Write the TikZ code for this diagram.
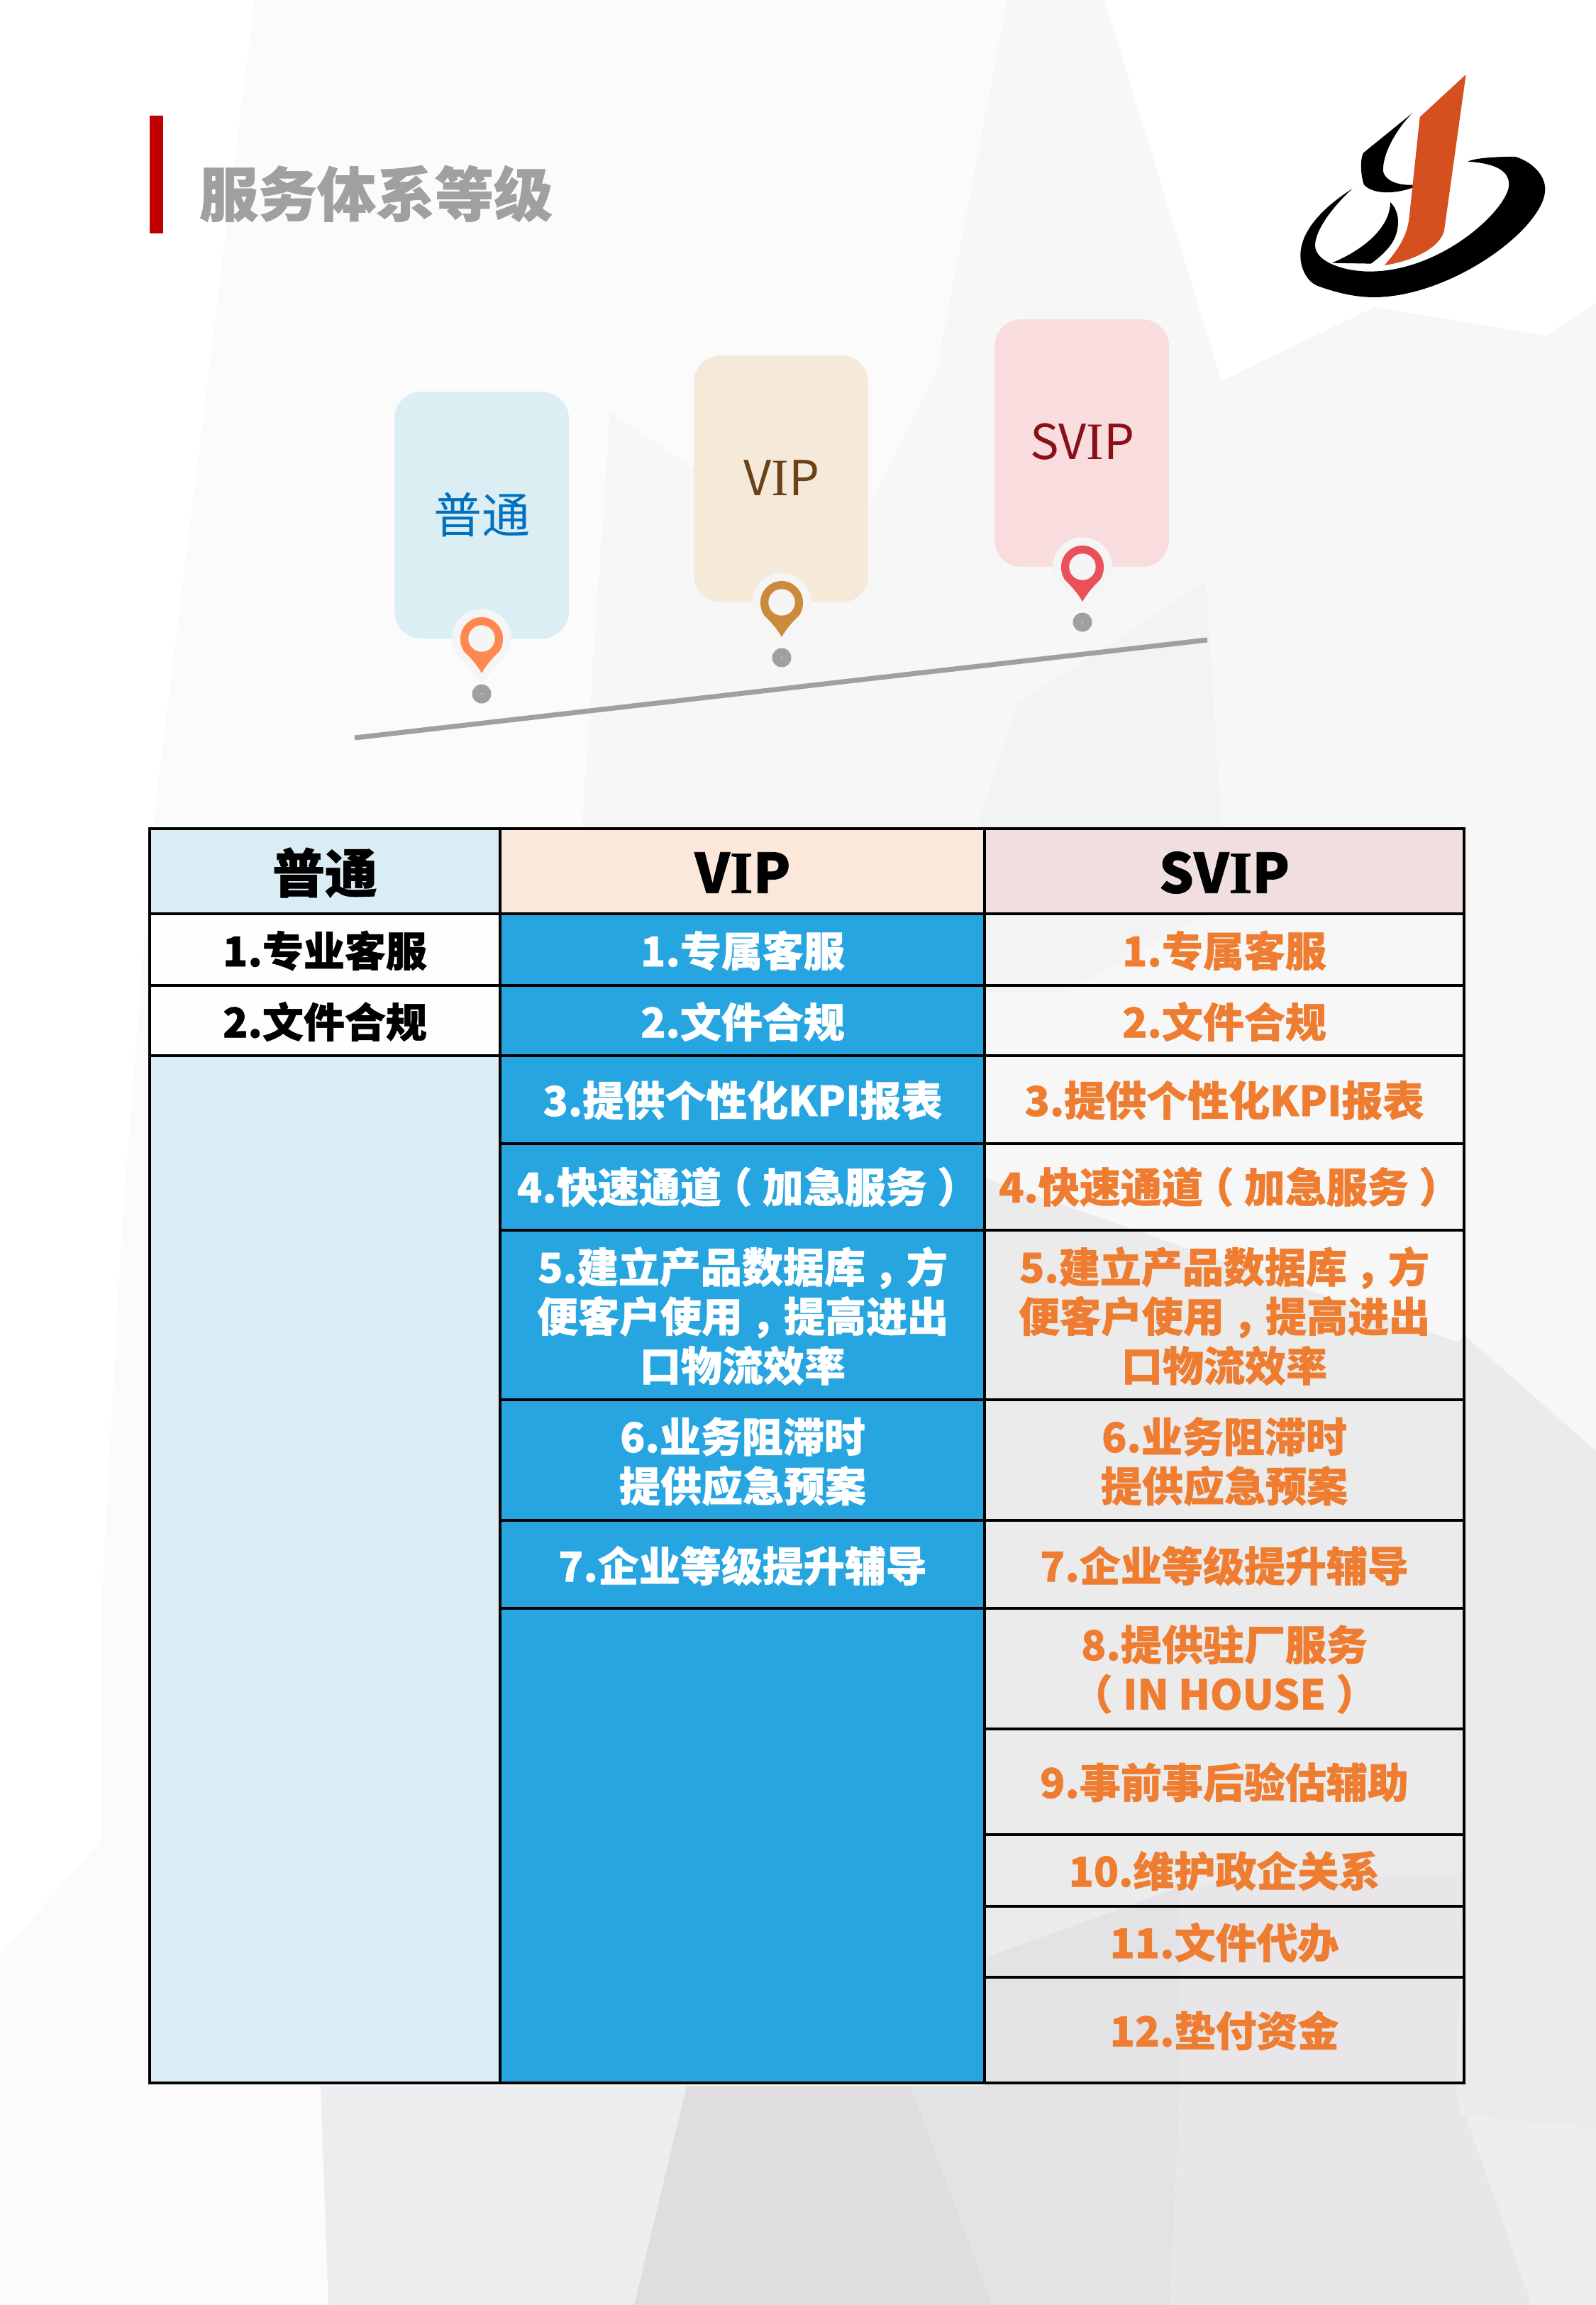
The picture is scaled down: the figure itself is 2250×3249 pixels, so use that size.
\documentclass[tikz,border=0pt]{standalone}
\usepackage{fontspec}
\setmainfont{Noto Sans CJK SC}[BoldFeatures={FakeBold=0.9}]
\newfontfamily\slabfam{Liberation Serif}[BoldFeatures={FakeBold=0.9}]
\newcommand\fwc{\makebox[1em][l]{\kern.2em ，}}
\newcommand\fwl{\makebox[1em][l]{\kern-.25em （}}
\newcommand\fwr{\makebox[1em][l]{\kern.25em ）}}
\newcommand\slabI{{\slabfam\fontsize{74}{74}\selectfont I}}
\newcommand\slabIB{{\slabfam\bfseries\fontsize{84}{84}\selectfont I}}
\definecolor{hblue}{HTML}{DAEDF4}
\definecolor{horange}{HTML}{FCE8DA}
\definecolor{hpink}{HTML}{F1DEDE}
\definecolor{vipblue}{HTML}{27A5E0}
\definecolor{txtor}{HTML}{EE7D31}
\definecolor{haloc}{HTML}{F5F5F5}
\definecolor{pinor}{HTML}{FF8850}
\definecolor{pinbr}{HTML}{CC8B3C}
\definecolor{pinre}{HTML}{E9505A}
\definecolor{logoor}{HTML}{D4501E}
\definecolor{barred}{HTML}{C00000}
\definecolor{cardb}{HTML}{DBEEF4}
\definecolor{cardo}{HTML}{F5E9DA}
\definecolor{cardp}{HTML}{F9DCDD}
\definecolor{tblue}{HTML}{0070C0}
\definecolor{tbrown}{HTML}{6B4218}
\definecolor{tred}{HTML}{8A1018}
\definecolor{grayl}{HTML}{A0A0A0}
\definecolor{bgA}{HTML}{FBFBFB}
\definecolor{bgB}{HTML}{F7F7F7}
\definecolor{bgC}{HTML}{F3F3F3}
\definecolor{bgD}{HTML}{EDECEE}
\definecolor{bgE}{HTML}{DFDDE0}
\definecolor{bgF}{HTML}{E3E3E5}
\definecolor{bgG}{HTML}{E8E6E9}
\definecolor{bgH}{HTML}{EEEEEE}
\definecolor{bgI}{HTML}{EBEBEB}
\definecolor{bgW}{HTML}{FCFAFB}
\tikzset{
  x=1pt,y=-1pt,
  cellline/.style={draw=black,line width=4pt},
  hcell/.style={font=\fontsize{74}{80}\selectfont\bfseries,text=black},
  hlatin/.style={font=\fontsize{77}{80}\selectfont\bfseries,text=black},
  bcell/.style={font=\fontsize{58}{69.5}\selectfont\bfseries,align=center,text=black},
  wcell/.style={bcell,text=white},
  ocell/.style={bcell,text=txtor},
  card/.style={rounded corners=38pt},
  cardtext/.style={font=\fontsize{68}{70}\selectfont}
}
\newcommand\pin[3]{%
  \fill[haloc] (#1-37,#2+20) arc[start angle=152,end angle=388,radius=42] -- (#1,#2+63) -- cycle;
  \fill[#3] (#1-25,#2+18) .. controls (#1-29,#2+12) and (#1-30,#2+6) .. (#1-30,#2)
     arc[start angle=180,end angle=360,radius=30]
     .. controls (#1+30,#2+6) and (#1+29,#2+12) .. (#1+25,#2+18)
     .. controls (#1+14,#2+29) and (#1+6,#2+38) .. (#1,#2+49)
     .. controls (#1-6,#2+38) and (#1-14,#2+29) .. (#1-25,#2+18) -- cycle;
  \fill[haloc] (#1,#2) circle[radius=18.7];
  \fill[grayl] (#1,#2+78) circle[radius=13.5];
  \fill[white] (#1,#2+78) circle[radius=.8];
}
\begin{document}
\begin{tikzpicture}
\useasboundingbox (0,0) rectangle (2250,3249);
% background
\fill[white] (0,0) rectangle (2250,3249);
\fill[bgA] (359,0) -- (1557,0) -- (1722,537) -- (2250,537) -- (2250,3249) -- (0,3249) -- (0,2757) -- (143,2593) -- (143,2264) -- (173,1716) -- (200,1374) -- (215,1170) -- cycle;
\fill[bgW] (0,2757) -- (143,2593) -- (215,2700) -- (452,2940) -- (463,3249) -- (0,3249) -- cycle;
\fill[bgB] (1420,0) -- (1557,0) -- (1722,537) -- (1937,433) -- (2180,473) -- (2250,427) -- (2250,2100) -- (1388,2100) -- (1388,1170) -- (820,1170) -- (860,580) -- (1180,800) -- (1320,522) -- cycle;
\fill[bgC] (1434,992) -- (1700,820) -- (1722,1170) -- (1377,1170) -- cycle;
\fill[bgC] (1388,1288) -- (1700,1288) -- (1500,1400) -- (1388,1400) -- cycle;
\fill[bgI] (1388,1660) -- (2056,1892) -- (2064,1882) -- (2250,2045) -- (2250,3000) -- (2060,2982) -- (2052,2940) -- (1388,2940) -- cycle;
\fill[bgD] (452,2940) -- (968,2940) -- (894,3249) -- (463,3249) -- cycle;
\fill[bgE] (968,2940) -- (1284,2940) -- (1399,3249) -- (894,3249) -- cycle;
\fill[bgF] (1284,2940) -- (1664,2940) -- (1650,3249) -- (1399,3249) -- cycle;
\fill[bgF] (1388,2760) -- (1664,2660) -- (1664,2940) -- (1388,2940) -- cycle;
\fill[bgG] (1664,2660) -- (2064,2640) -- (2052,2940) -- (1664,2940) -- cycle;
\fill[bgG] (1664,2940) -- (2052,2940) -- (2160,3249) -- (1650,3249) -- cycle;
\fill[bgH] (2052,2940) -- (2060,2982) -- (2250,3000) -- (2250,3249) -- (2160,3249) -- cycle;
% logo
\begin{scope}[shift={(1750,60)},x=.3333pt,y=-.3333pt]
\fill[black] (470,618) .. controls (340,700) and (250,800) .. (250,900) .. controls (250,960) and (280,1010) .. (320,1028) .. controls (420,1065) and (500,1078) .. (570,1077) .. controls (900,1070) and (1285,780) .. (1285,620) .. controls (1285,560) and (1230,505) .. (1160,483) .. controls (1090,482) and (990,487) .. (958,503) .. controls (1060,510) and (1132,535) .. (1132,600) .. controls (1132,700) and (850,970) .. (540,968) .. controls (440,968) and (315,930) .. (312,860) .. controls (310,790) and (400,680) .. (470,618) -- cycle;
\fill[black] (725,297) -- (518,465) .. controls (505,480) and (500,540) .. (518,600) .. controls (560,650) and (680,640) .. (760,598) .. controls (680,612) and (610,590) .. (600,545) .. controls (595,470) and (660,360) .. (725,297) -- cycle;
\fill[black] (630,675) .. controls (665,710) and (670,760) .. (655,810) .. controls (640,860) and (590,905) .. (548,935) -- (382,932) .. controls (500,885) and (630,790) .. (630,675) -- cycle;
\fill[logoor] (950,135) -- (755,315) -- (710,740) .. controls (700,830) and (650,890) .. (605,942) .. controls (720,925) and (840,870) .. (858,795) -- cycle;
\end{scope}
% title
\fill[barred] (211,163) rectangle (230,329);
\node[text=grayl,font=\fontsize{83}{90}\selectfont\bfseries] (title) at (530,273) {服务体系等级};
% cards
\fill[card,cardb] (556,552) rectangle (802,900);
\fill[card,cardo] (978,501) rectangle (1224,849);
\fill[card,cardp] (1402,450) rectangle (1648,799);
\node[cardtext,text=tblue] (c1) at (679,726) {普通};
\node[cardtext,text=tbrown] (c2) at (1102,674) {V\slabI P};
\node[cardtext,text=tred] (c3) at (1526,623) {SV\slabI P};
\pin{679}{900}{pinor}
\pin{1102}{849}{pinbr}
\pin{1526}{799}{pinre}
\coordinate (ls) at (500,1040);
\coordinate (le) at (1702,902);
\draw[grayl,line width=7pt] (ls) -- (le);
% table fills
\fill[hblue] (211,1168) rectangle (705,1288);
\fill[horange] (705,1168) rectangle (1388,1288);
\fill[hpink] (1388,1168) rectangle (2064,1288);
\fill[white,opacity=.8] (211,1288) rectangle (705,1488);
\fill[hblue] (211,1488) rectangle (705,2936);
\fill[vipblue] (705,1288) rectangle (1388,2936);
% grid
\draw[cellline] (211,1168) rectangle (2064,2936);
\draw[cellline] (705,1168) -- (705,2936);
\draw[cellline] (1388,1168) -- (1388,2936);
\draw[cellline] (211,1288) -- (2064,1288);
\draw[cellline] (211,1389) -- (2064,1389);
\draw[cellline] (211,1488) -- (2064,1488);
\draw[cellline] (705,1612) -- (2064,1612);
\draw[cellline] (705,1734) -- (2064,1734);
\draw[cellline] (705,1973) -- (2064,1973);
\draw[cellline] (705,2143) -- (2064,2143);
\draw[cellline] (705,2267) -- (2064,2267);
\draw[cellline] (1388,2437) -- (2064,2437);
\draw[cellline] (1388,2586) -- (2064,2586);
\draw[cellline] (1388,2687) -- (2064,2687);
\draw[cellline] (1388,2787) -- (2064,2787);
% headers
\node[hcell] (h1) at (458,1230) {普通};
\node[hlatin] (h2) at (1047,1230) {V\slabIB P};
\node[hlatin] (h3) at (1726,1230) {SV\slabIB P};
% column 1
\node[bcell] (a1) at (458,1340) {1.专业客服};
\node[bcell] (a2) at (458,1440) {2.文件合规};
% column 2
\node[wcell] (b1) at (1047,1340) {1.专属客服};
\node[wcell] (b2) at (1047,1440) {2.文件合规};
\node[wcell] (b3) at (1047,1551) {3.提供个性化KPI报表};
\node[wcell] (b4) at (1047,1673) {4.快速通道\fwl 加急服务\fwr};
\node[wcell] (b5) at (1047,1855) {5.建立产品数据库\fwc 方\\便客户使用\fwc 提高进出\\口物流效率};
\node[wcell] (b6) at (1047,2060) {6.业务阻滞时\\提供应急预案};
\node[wcell] (b7) at (1047,2207) {7.企业等级提升辅导};
% column 3
\node[ocell] (s1) at (1726,1340) {1.专属客服};
\node[ocell] (s2) at (1726,1440) {2.文件合规};
\node[ocell] (s3) at (1726,1551) {3.提供个性化KPI报表};
\node[ocell] (s4) at (1726,1673) {4.快速通道\fwl 加急服务\fwr};
\node[ocell] (s5) at (1726,1855) {5.建立产品数据库\fwc 方\\便客户使用\fwc 提高进出\\口物流效率};
\node[ocell] (s6) at (1726,2060) {6.业务阻滞时\\提供应急预案};
\node[ocell] (s7) at (1726,2207) {7.企业等级提升辅导};
\node[ocell] (s8) at (1726,2353) {8.提供驻厂服务\\\fwl IN HOUSE\fwr};
\node[ocell] (s9) at (1726,2512) {9.事前事后验估辅助};
\node[ocell] (s10) at (1726,2637) {10.维护政企关系};
\node[ocell] (s11) at (1726,2738) {11.文件代办};
\node[ocell] (s12) at (1726,2862) {12.垫付资金};
\end{tikzpicture}
\end{document}
